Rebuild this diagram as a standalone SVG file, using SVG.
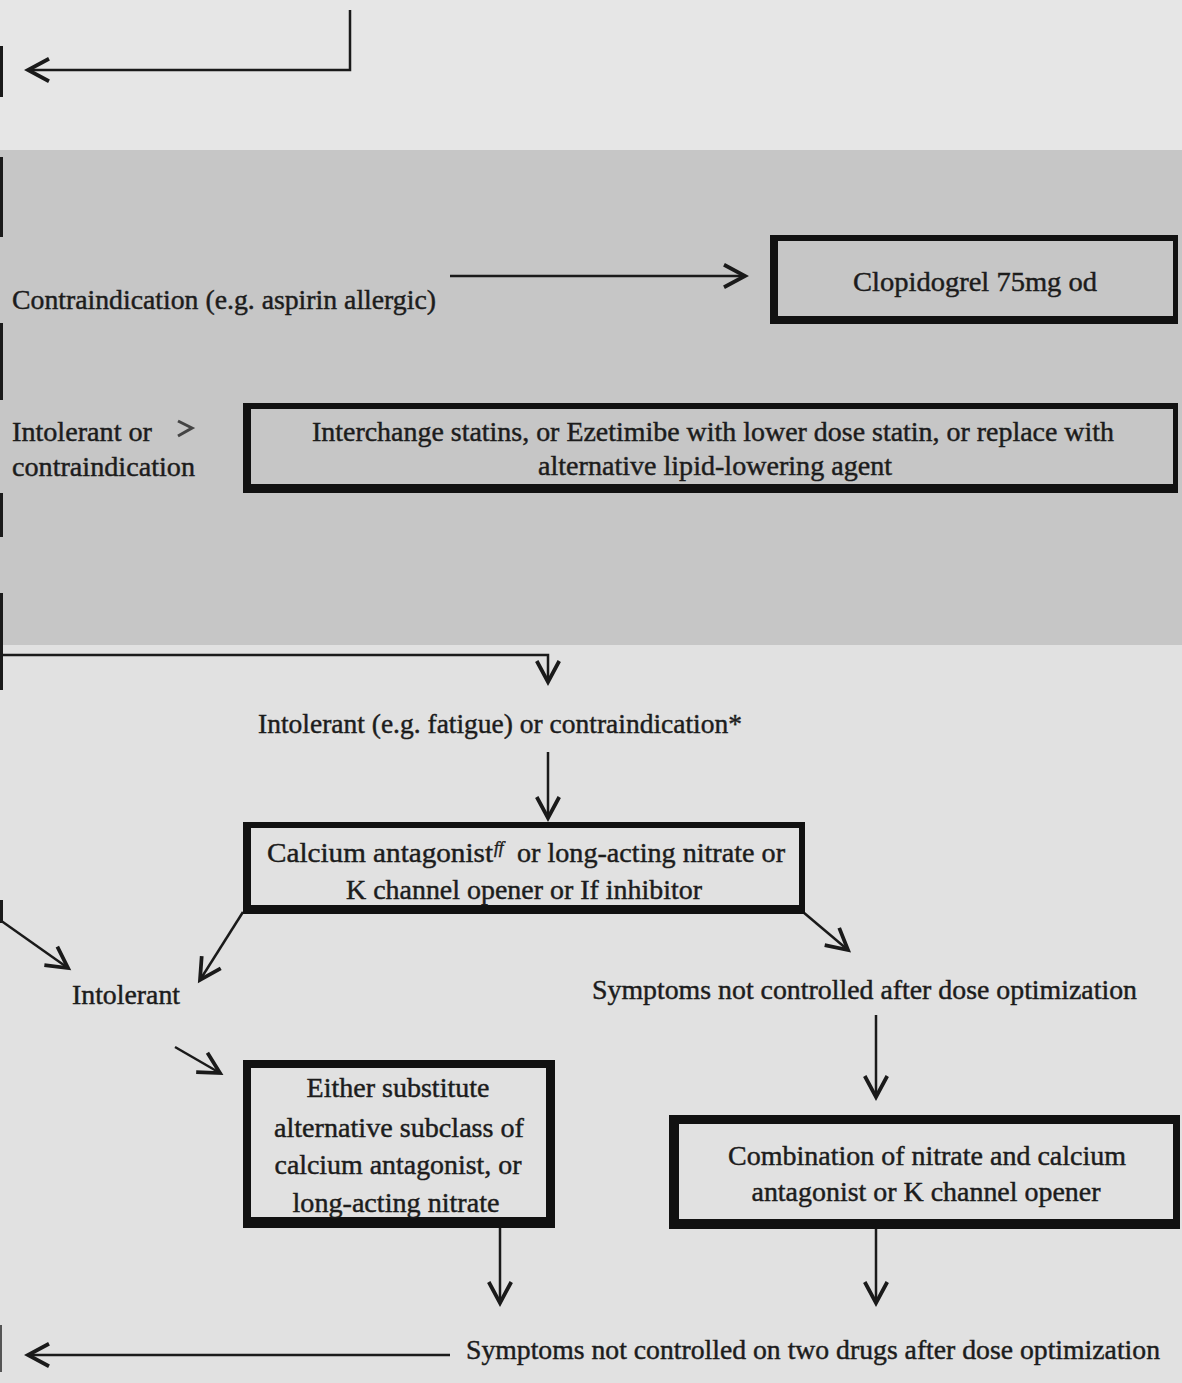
<svg xmlns="http://www.w3.org/2000/svg" width="1182" height="1383" viewBox="0 0 1182 1383">
<style>
text{font-family:"Liberation Serif","Times New Roman",serif;font-size:28px;fill:#1c1c1c;stroke:#1c1c1c;stroke-width:0.45}
.c{text-anchor:middle}
.ln{stroke:#1a1a1a;stroke-width:2.5;fill:none}
.edge{fill:#1a1a1a}
</style>
<defs>
<marker id="ah" markerUnits="userSpaceOnUse" markerWidth="30" markerHeight="30" viewBox="-16 -10 20 20" refX="0" refY="0" orient="auto">
<path d="M-14,-7.5 L0,0 L-14,7.5" fill="none" stroke="#1a1a1a" stroke-width="2.5"/>
</marker>
</defs>
<rect x="0" y="0" width="1182" height="150" fill="#e6e6e6"/>
<rect x="0" y="150" width="1182" height="495" fill="#c6c6c6"/>
<rect x="0" y="645" width="1182" height="738" fill="#e1e1e1"/>
<g id="left-edge">
<rect class="edge" x="0" y="46" width="3" height="51"/>
<rect class="edge" x="0" y="157" width="3" height="80"/>
<rect class="edge" x="0" y="323" width="3" height="77"/>
<rect class="edge" x="0" y="493" width="3" height="44"/>
<rect class="edge" x="0" y="593" width="3" height="97"/>
<rect class="edge" x="0" y="900" width="3" height="23"/>
<rect x="0" y="1325" width="2" height="47" fill="#555"/>
</g>
<g id="connectors">
<path class="ln" d="M350,10 V70 H28" marker-end="url(#ah)"/>
<path class="ln" d="M450,276 H745" marker-end="url(#ah)"/>
<path d="M178,421 L192,428 L178,436" fill="none" stroke="#444" stroke-width="3"/>
<path class="ln" d="M0,655 H548 V682" stroke-width="3" marker-end="url(#ah)"/>
<path class="ln" d="M548,752 V818" marker-end="url(#ah)"/>
<path class="ln" d="M0,920 L68,968" marker-end="url(#ah)"/>
<path class="ln" d="M243,912 L200,980" marker-end="url(#ah)"/>
<path class="ln" d="M175,1047 L220,1073" marker-end="url(#ah)"/>
<path class="ln" d="M803,912 L848,950" marker-end="url(#ah)"/>
<path class="ln" d="M876,1015 V1097" marker-end="url(#ah)"/>
<path class="ln" d="M500,1227 V1303" marker-end="url(#ah)"/>
<path class="ln" d="M876,1227 V1303" marker-end="url(#ah)"/>
<path class="ln" d="M450,1355 H28" marker-end="url(#ah)"/>
</g>
<g id="label-contraindication">
<text x="12" y="309" textLength="424" lengthAdjust="spacingAndGlyphs">Contraindication (e.g. aspirin allergic)</text>
</g>
<g id="label-intolerant-or">
<text x="12" y="441" textLength="140" lengthAdjust="spacingAndGlyphs">Intolerant or</text>
<text x="12" y="476" textLength="183" lengthAdjust="spacingAndGlyphs">contraindication</text>
</g>
<g id="box-clopidogrel">
<rect x="770" y="235" width="408" height="89" fill="#111"/>
<rect x="778" y="241" width="395" height="75" fill="#c6c6c6"/>
<text class="c" x="975" y="291" textLength="244" lengthAdjust="spacingAndGlyphs">Clopidogrel 75mg od</text>
</g>
<g id="box-statins">
<rect x="243" y="403" width="935" height="90" fill="#111"/>
<rect x="251" y="409" width="922" height="75" fill="#c6c6c6"/>
<text class="c" x="713" y="441" textLength="802" lengthAdjust="spacingAndGlyphs">Interchange statins, or Ezetimibe with lower dose statin, or replace with</text>
<text class="c" x="715" y="475" textLength="354" lengthAdjust="spacingAndGlyphs">alternative lipid-lowering agent</text>
</g>
<g id="label-intolerant-fatigue">
<text x="258" y="733" textLength="484" lengthAdjust="spacingAndGlyphs">Intolerant (e.g. fatigue) or contraindication*</text>
</g>
<g id="box-calcium">
<rect x="243" y="822" width="562" height="92" fill="#111"/>
<rect x="251" y="828" width="548" height="77" fill="#e1e1e1"/>
<text x="267" y="862" textLength="226" lengthAdjust="spacingAndGlyphs">Calcium  antagonist</text>
<text x="494" y="853" style="font-size:17px;font-style:italic">ff</text>
<text x="517" y="862" textLength="268" lengthAdjust="spacingAndGlyphs">or long-acting nitrate or</text>
<text class="c" x="524" y="899" textLength="356" lengthAdjust="spacingAndGlyphs">K channel opener or If inhibitor</text>
</g>
<g id="label-intolerant">
<text x="72" y="1004" textLength="108" lengthAdjust="spacingAndGlyphs">Intolerant</text>
</g>
<g id="label-symptoms-1">
<text x="592" y="999" textLength="545" lengthAdjust="spacingAndGlyphs">Symptoms not controlled after dose optimization</text>
</g>
<g id="box-substitute">
<rect x="243" y="1060" width="312" height="168" fill="#111"/>
<rect x="251" y="1068" width="295" height="149" fill="#e1e1e1"/>
<text class="c" x="398" y="1097" textLength="183" lengthAdjust="spacingAndGlyphs">Either substitute</text>
<text class="c" x="399" y="1137" textLength="250" lengthAdjust="spacingAndGlyphs">alternative subclass of</text>
<text class="c" x="398" y="1174" textLength="247" lengthAdjust="spacingAndGlyphs">calcium antagonist, or</text>
<text class="c" x="396" y="1212" textLength="207" lengthAdjust="spacingAndGlyphs">long-acting nitrate</text>
</g>
<g id="box-combination">
<rect x="669" y="1115" width="511" height="114" fill="#111"/>
<rect x="679" y="1124" width="494" height="95" fill="#e1e1e1"/>
<text class="c" x="927" y="1165" textLength="398" lengthAdjust="spacingAndGlyphs">Combination of nitrate and calcium</text>
<text class="c" x="926" y="1201" textLength="349" lengthAdjust="spacingAndGlyphs">antagonist or K channel opener</text>
</g>
<g id="label-symptoms-2">
<text x="466" y="1359" textLength="694" lengthAdjust="spacingAndGlyphs">Symptoms not controlled on two drugs after dose optimization</text>
</g>
</svg>
